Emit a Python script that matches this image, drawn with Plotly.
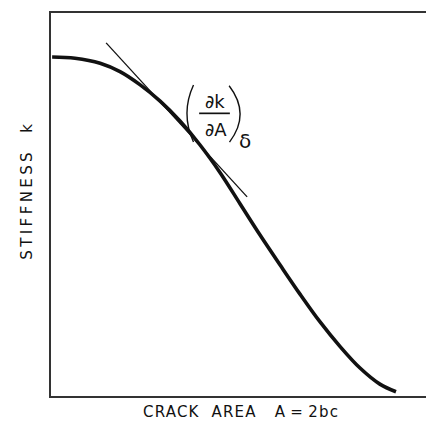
import plotly.graph_objects as go

# Stiffness k as a function of crack area A (schematic, arbitrary units)
crack_area = [0.03, 0.64, 1.31, 1.84, 2.37, 2.91, 3.44, 3.97, 4.51, 5.04,
              5.57, 6.11, 6.64, 7.17, 7.71, 8.24, 8.77, 9.20]
stiffness = [8.85, 8.82, 8.69, 8.47, 8.13, 7.70, 7.18, 6.56, 5.83, 5.02,
             4.21, 3.42, 2.66, 1.94, 1.29, 0.73, 0.31, 0.11]

# Tangent to the curve, giving the slope (dk/dA) at constant displacement
tangent_x = [1.47, 5.23]
tangent_y = [9.22, 5.20]

x_label = "CRACK\u00a0\u00a0AREA\u00a0\u00a0\u00a0A\u2009=\u20092bc"
y_label = "STIFFNESS\u00a0\u00a0k"

FONT = "DejaVu Sans"
INK = "#111111"

fig = go.Figure()

fig.add_trace(go.Scatter(
    x=tangent_x, y=tangent_y, mode="lines",
    line=dict(color=INK, width=1.3), hoverinfo="skip", showlegend=False,
))
fig.add_trace(go.Scatter(
    x=crack_area, y=stiffness, mode="lines",
    line=dict(color=INK, width=3.6, shape="spline", smoothing=1.0),
    hoverinfo="skip", showlegend=False,
))

# Partial derivative label: (dk/dA) with subscript delta
fig.add_annotation(x=4.37, y=7.70, xref="x", yref="y", text="\u2202k",
                   showarrow=False, font=dict(family=FONT, size=18, color=INK))
fig.add_annotation(x=4.40, y=6.95, xref="x", yref="y", text="\u2202A",
                   showarrow=False, font=dict(family=FONT, size=18, color=INK))
fig.add_annotation(x=5.16, y=6.66, xref="x", yref="y", text="\u03b4",
                   showarrow=False, font=dict(family=FONT, size=20, color=INK))
fig.add_shape(type="line", xref="x", yref="y", x0=3.95, x1=4.77, y0=7.38, y1=7.38,
              line=dict(color=INK, width=1.7))
# bracket arcs around the fraction
fig.add_shape(type="path", xref="x", yref="y",
              path="M 3.80 8.12 Q 3.45 7.38 3.80 6.63",
              line=dict(color=INK, width=1.4))
fig.add_shape(type="path", xref="x", yref="y",
              path="M 4.75 8.10 Q 5.33 7.36 4.76 6.63",
              line=dict(color=INK, width=1.4))

# Axis titles
fig.add_annotation(x=0.507, y=-0.071, xref="paper", yref="paper",
                   text=f"<span style='letter-spacing:1.2px'>{x_label}</span>",
                   showarrow=False, font=dict(family=FONT, size=15, color=INK))
fig.add_annotation(x=-0.094, y=0.538, xref="paper", yref="paper", textangle=-90,
                   text=f"<span style='letter-spacing:3.4px'>{y_label}</span>",
                   showarrow=False, font=dict(family=FONT, size=15, color=INK))

axis_common = dict(showgrid=False, zeroline=False, showticklabels=False,
                   ticks="", showline=True, linecolor="#333333", linewidth=1.5)
fig.update_xaxes(range=[0, 10], mirror=True, **axis_common)
fig.update_yaxes(range=[0, 10], mirror=False, **axis_common)

fig.update_layout(
    width=426, height=430,
    margin=dict(l=51, r=0, t=13, b=34),
    paper_bgcolor="white", plot_bgcolor="white",
    showlegend=False,
)

fig.write_html("out.html")
